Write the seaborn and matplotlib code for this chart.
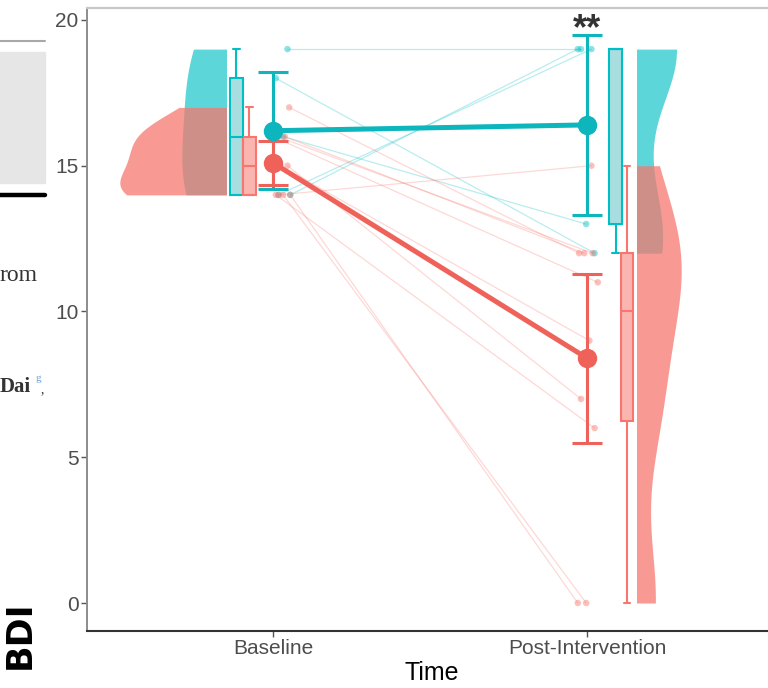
import numpy as np
import pandas as pd
import matplotlib
matplotlib.use("Agg")
import matplotlib.pyplot as plt
from matplotlib.patches import Rectangle
from matplotlib.lines import Line2D
import seaborn as sns

# ---------------- data ----------------
times = ["Baseline", "Post-Intervention"]
group_names = ["G1", "G2"]

# individual BDI scores (paired by subject index)
g1_baseline = [14, 14, 16, 18, 19]
g1_post = [19, 19, 13, 12, 19]
g2_baseline = [14, 14, 14, 14, 15, 15, 16, 16, 16, 17]
g2_post = [15, 0, 0, 6, 7, 9, 11, 12, 12, 12]

# group means and error-bar half widths
g1_mean = [16.2, 16.4]
g1_err = [2.0, 3.1]
g2_mean = [15.1, 8.4]
g2_err = [0.75, 2.9]

y_ticks = [0, 5, 10, 15, 20]

# ---------------- style / layout ----------------
TEAL = "#00BFC4"
RED = "#F8766D"
TEAL_DARK = "#0DB5BD"
RED_DARK = "#EF625A"
TEAL_LIGHT = "#A9DEE1"
RED_LIGHT = "#FAB5B0"

VIOLIN_X = [-0.15, 1.16]
# full violin widths (data units) and KDE bandwidth factors per group and time
VIOLIN_W = {"G1": [0.28, 0.25], "G2": [0.675, 0.28]}
VIOLIN_BW = {"G1": [1.1, 0.75], "G2": [1.1, 0.7]}
VIOLIN_ALPHA = {"G1": 0.64, "G2": 0.74}
BOX_X = {"G1": [-0.116, 1.091], "G2": [-0.075, 1.127]}
POINT_X = [0.03, 0.0]
BOX_W = 0.04

sns.set_theme(style="white")
plt.rcParams["font.family"] = ["Liberation Sans", "DejaVu Sans"]

fig = plt.figure(figsize=(7.68, 6.88), dpi=100)
ax = fig.add_axes([87 / 768, (688 - 631) / 688, (777 - 87) / 768, (631 - 8) / 688])

# ---------------- long tables ----------------
rows = []
sid = 0
for g, base, post in [("G1", g1_baseline, g1_post), ("G2", g2_baseline, g2_post)]:
    n = len(base)
    jit = ((np.arange(n) * 0.618 + 0.3) % 1.0 - 0.5) * 0.06
    jit2 = ((np.arange(n) * 0.382 + 0.7) % 1.0 - 0.5) * 0.07
    for i in range(n):
        for t, vals, jj in [(0, base, jit), (1, post, jit2)]:
            rows.append({"group": g, "subject": sid, "t": t, "value": vals[i],
                         "vx": VIOLIN_X[t], "bx": BOX_X[g][t],
                         "xj": t + POINT_X[t] + jj[i]})
        sid += 1
df = pd.DataFrame(rows)

means = pd.DataFrame({
    "group": ["G1", "G1", "G2", "G2"],
    "t": [0, 1, 0, 1],
    "mean": g1_mean + g2_mean,
    "err": g1_err + g2_err,
})

# ---------------- half violins (baseline: left half, post: right half) ----------------
for g, col, z in [("G1", TEAL, 1.0), ("G2", RED, 1.1)]:
    for t in [0, 1]:
        sub = df[(df["group"] == g) & (df["t"] == t)]
        n_before = len(ax.collections)
        sns.violinplot(x=sub["vx"], y=sub["value"], color=col, saturation=1,
                       native_scale=True, orient="x", cut=0, inner=None,
                       bw_adjust=VIOLIN_BW[g][t], width=VIOLIN_W[g][t],
                       linewidth=0, ax=ax)
        for coll in ax.collections[n_before:]:
            coll.set_alpha(VIOLIN_ALPHA[g])
            coll.set_zorder(z)
            if t == 0:
                clip = Rectangle((-2, -10), VIOLIN_X[0] + 2, 50, transform=ax.transData)
            else:
                clip = Rectangle((VIOLIN_X[1], -10), 3, 50, transform=ax.transData)
            coll.set_clip_path(clip)

# ---------------- boxplots ----------------
for g, light, dark in [("G1", TEAL_LIGHT, TEAL), ("G2", RED_LIGHT, RED)]:
    sub = df[df["group"] == g]
    span = BOX_X[g][1] - BOX_X[g][0]
    sns.boxplot(x=sub["bx"], y=sub["value"], native_scale=True, orient="x",
                width=BOX_W / span, color=light, linecolor=dark, saturation=1,
                linewidth=1.5, fliersize=0, ax=ax)

# ---------------- subject lines and points ----------------
sns.lineplot(data=df, x="xj", y="value", hue="group", hue_order=group_names,
             palette=[TEAL, RED], units="subject", estimator=None, alpha=0.28,
             linewidth=0.9, legend=False, ax=ax, zorder=3)
sns.scatterplot(data=df, x="xj", y="value", hue="group", hue_order=group_names,
                palette=[TEAL, RED], s=22, alpha=0.45, linewidth=0,
                legend=False, ax=ax, zorder=4)

# ---------------- means with error bars ----------------
for g, col in [("G1", TEAL_DARK), ("G2", RED_DARK)]:
    m = means[means["group"] == g]
    ax.errorbar(m["t"], m["mean"], yerr=m["err"], fmt="none", ecolor=col,
                elinewidth=2.2, capsize=11, capthick=2.2, zorder=5)
sns.lineplot(data=means, x="t", y="mean", hue="group", hue_order=group_names,
             palette=[TEAL_DARK, RED_DARK], estimator=None, linewidth=3.6,
             marker="o", markersize=14, markeredgewidth=0, legend=False,
             ax=ax, zorder=6)

ax.text(1.0, 19.05, "**", ha="center", va="bottom", fontsize=26,
        color="#333333", fontweight="bold")

# ---------------- axes ----------------
ax.set_xlim(-0.592, 1.605)
ax.set_ylim(-0.96, 20.41)
ax.set_xticks([0, 1])
ax.set_xticklabels(times)
ax.set_yticks(y_ticks)
ax.set_yticklabels([str(v) for v in y_ticks])
ax.tick_params(axis="both", colors="#555555", labelcolor="#4D4D4D",
               labelsize=15, length=4, width=1, direction="out", pad=2)
ax.tick_params(axis="both", which="both", left=True, bottom=True)
ax.set_xlabel("Time", fontsize=18, color="black", labelpad=2)
ax.set_ylabel("")
ax.spines["left"].set_color("#8C8C8C")
ax.spines["left"].set_linewidth(1.4)
ax.spines["bottom"].set_color("#333333")
ax.spines["bottom"].set_linewidth(1.5)
ax.spines["top"].set_color("#C8C8C8")
ax.spines["top"].set_linewidth(1.6)
ax.spines["right"].set_visible(False)
ax.grid(False)

fig.text(20 / 768, 1 - 635 / 688, "BDI", rotation=90, ha="center", va="center",
         fontsize=25, fontweight="bold", color="black", family="DejaVu Sans")

# ---------------- page fragments on the left ----------------
fig.add_artist(Rectangle((0, 1 - 183 / 688), 45 / 768, (183 - 52) / 688,
                         transform=fig.transFigure, color="#E6E6E6", zorder=0))
fig.add_artist(Line2D([0, 45 / 768], [1 - 41 / 688] * 2, transform=fig.transFigure,
                      color="#A8A8A8", lw=1.5))
fig.add_artist(Line2D([0, 45 / 768], [1 - 195 / 688] * 2, transform=fig.transFigure,
                      color="black", lw=3.2))
fig.text(0 / 768, 1 - 281 / 688, "rom", fontsize=17, family="Liberation Serif",
         color="#333333", va="baseline", ha="left")
fig.text(0 / 768, 1 - 392 / 688, "Dai", fontsize=15, family="Liberation Serif",
         fontweight="bold", color="#333333", va="baseline", ha="left")
fig.text(35 / 768, 1 - 381 / 688, "g", fontsize=8, family="Liberation Serif",
         color="#6A9FD8", va="baseline", ha="left")
fig.text(41 / 768, 1 - 393 / 688, ",", fontsize=10, family="Liberation Serif",
         color="#333333", va="baseline", ha="left")

fig.savefig("out.png", dpi=100)
